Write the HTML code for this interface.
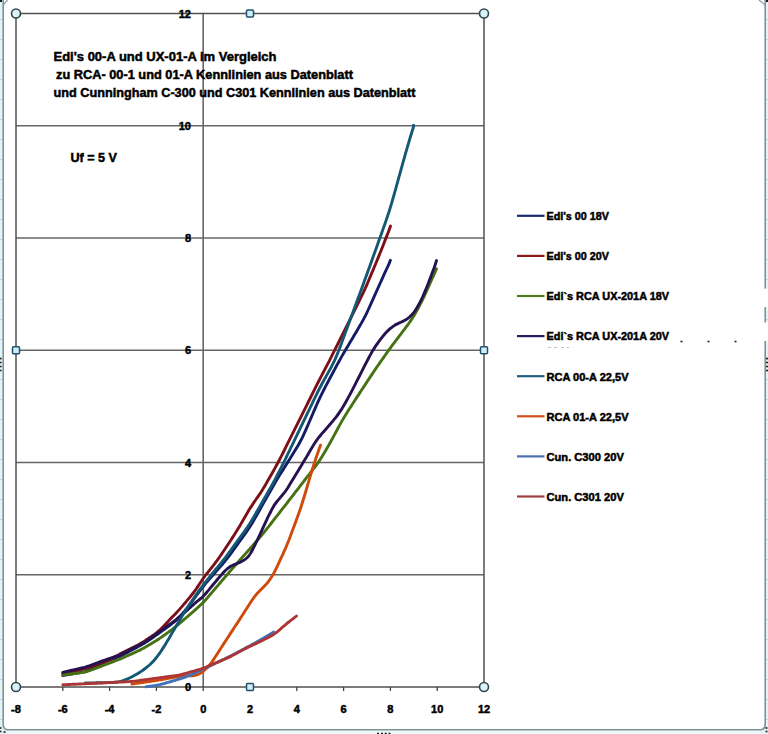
<!DOCTYPE html><html><head><meta charset="utf-8"><style>html,body{margin:0;padding:0;background:#fff;}svg{display:block;}text{font-family:"Liberation Sans",sans-serif;font-weight:bold;fill:#000;stroke:#000;stroke-width:0.5px;}</style></head><body>
<svg width="768" height="734" viewBox="0 0 768 734">
<rect x="0" y="0" width="768" height="734" fill="#e2f4f8"/>
<path d="M3.2,-2 L765.2,-2 L765.2,724.5 Q765.2,729.8 760,729.8 L8.5,729.8 Q3.2,729.8 3.2,724.5 Z" fill="#ffffff" stroke="none"/>
<line x1="0" y1="19.5" x2="2.4" y2="19.5" stroke="#b9cfd3" stroke-width="0.8"/>
<line x1="766" y1="19.5" x2="768" y2="19.5" stroke="#b9cfd3" stroke-width="0.8"/>
<line x1="0" y1="39.5" x2="2.4" y2="39.5" stroke="#b9cfd3" stroke-width="0.8"/>
<line x1="766" y1="39.5" x2="768" y2="39.5" stroke="#b9cfd3" stroke-width="0.8"/>
<line x1="0" y1="59.5" x2="2.4" y2="59.5" stroke="#b9cfd3" stroke-width="0.8"/>
<line x1="766" y1="59.5" x2="768" y2="59.5" stroke="#b9cfd3" stroke-width="0.8"/>
<line x1="0" y1="79.5" x2="2.4" y2="79.5" stroke="#b9cfd3" stroke-width="0.8"/>
<line x1="766" y1="79.5" x2="768" y2="79.5" stroke="#b9cfd3" stroke-width="0.8"/>
<line x1="0" y1="99.5" x2="2.4" y2="99.5" stroke="#b9cfd3" stroke-width="0.8"/>
<line x1="766" y1="99.5" x2="768" y2="99.5" stroke="#b9cfd3" stroke-width="0.8"/>
<line x1="0" y1="119.5" x2="2.4" y2="119.5" stroke="#b9cfd3" stroke-width="0.8"/>
<line x1="766" y1="119.5" x2="768" y2="119.5" stroke="#b9cfd3" stroke-width="0.8"/>
<line x1="0" y1="139.5" x2="2.4" y2="139.5" stroke="#b9cfd3" stroke-width="0.8"/>
<line x1="766" y1="139.5" x2="768" y2="139.5" stroke="#b9cfd3" stroke-width="0.8"/>
<line x1="0" y1="159.5" x2="2.4" y2="159.5" stroke="#b9cfd3" stroke-width="0.8"/>
<line x1="766" y1="159.5" x2="768" y2="159.5" stroke="#b9cfd3" stroke-width="0.8"/>
<line x1="0" y1="179.5" x2="2.4" y2="179.5" stroke="#b9cfd3" stroke-width="0.8"/>
<line x1="766" y1="179.5" x2="768" y2="179.5" stroke="#b9cfd3" stroke-width="0.8"/>
<line x1="0" y1="199.5" x2="2.4" y2="199.5" stroke="#b9cfd3" stroke-width="0.8"/>
<line x1="766" y1="199.5" x2="768" y2="199.5" stroke="#b9cfd3" stroke-width="0.8"/>
<line x1="0" y1="219.5" x2="2.4" y2="219.5" stroke="#b9cfd3" stroke-width="0.8"/>
<line x1="766" y1="219.5" x2="768" y2="219.5" stroke="#b9cfd3" stroke-width="0.8"/>
<line x1="0" y1="239.5" x2="2.4" y2="239.5" stroke="#b9cfd3" stroke-width="0.8"/>
<line x1="766" y1="239.5" x2="768" y2="239.5" stroke="#b9cfd3" stroke-width="0.8"/>
<line x1="0" y1="259.5" x2="2.4" y2="259.5" stroke="#b9cfd3" stroke-width="0.8"/>
<line x1="766" y1="259.5" x2="768" y2="259.5" stroke="#b9cfd3" stroke-width="0.8"/>
<line x1="0" y1="279.5" x2="2.4" y2="279.5" stroke="#b9cfd3" stroke-width="0.8"/>
<line x1="766" y1="279.5" x2="768" y2="279.5" stroke="#b9cfd3" stroke-width="0.8"/>
<line x1="0" y1="299.5" x2="2.4" y2="299.5" stroke="#b9cfd3" stroke-width="0.8"/>
<line x1="766" y1="299.5" x2="768" y2="299.5" stroke="#b9cfd3" stroke-width="0.8"/>
<line x1="0" y1="319.5" x2="2.4" y2="319.5" stroke="#b9cfd3" stroke-width="0.8"/>
<line x1="766" y1="319.5" x2="768" y2="319.5" stroke="#b9cfd3" stroke-width="0.8"/>
<line x1="0" y1="339.5" x2="2.4" y2="339.5" stroke="#b9cfd3" stroke-width="0.8"/>
<line x1="766" y1="339.5" x2="768" y2="339.5" stroke="#b9cfd3" stroke-width="0.8"/>
<line x1="0" y1="359.5" x2="2.4" y2="359.5" stroke="#b9cfd3" stroke-width="0.8"/>
<line x1="766" y1="359.5" x2="768" y2="359.5" stroke="#b9cfd3" stroke-width="0.8"/>
<line x1="0" y1="379.5" x2="2.4" y2="379.5" stroke="#b9cfd3" stroke-width="0.8"/>
<line x1="766" y1="379.5" x2="768" y2="379.5" stroke="#b9cfd3" stroke-width="0.8"/>
<line x1="0" y1="399.5" x2="2.4" y2="399.5" stroke="#b9cfd3" stroke-width="0.8"/>
<line x1="766" y1="399.5" x2="768" y2="399.5" stroke="#b9cfd3" stroke-width="0.8"/>
<line x1="0" y1="419.5" x2="2.4" y2="419.5" stroke="#b9cfd3" stroke-width="0.8"/>
<line x1="766" y1="419.5" x2="768" y2="419.5" stroke="#b9cfd3" stroke-width="0.8"/>
<line x1="0" y1="439.5" x2="2.4" y2="439.5" stroke="#b9cfd3" stroke-width="0.8"/>
<line x1="766" y1="439.5" x2="768" y2="439.5" stroke="#b9cfd3" stroke-width="0.8"/>
<line x1="0" y1="459.5" x2="2.4" y2="459.5" stroke="#b9cfd3" stroke-width="0.8"/>
<line x1="766" y1="459.5" x2="768" y2="459.5" stroke="#b9cfd3" stroke-width="0.8"/>
<line x1="0" y1="479.5" x2="2.4" y2="479.5" stroke="#b9cfd3" stroke-width="0.8"/>
<line x1="766" y1="479.5" x2="768" y2="479.5" stroke="#b9cfd3" stroke-width="0.8"/>
<line x1="0" y1="499.5" x2="2.4" y2="499.5" stroke="#b9cfd3" stroke-width="0.8"/>
<line x1="766" y1="499.5" x2="768" y2="499.5" stroke="#b9cfd3" stroke-width="0.8"/>
<line x1="0" y1="519.5" x2="2.4" y2="519.5" stroke="#b9cfd3" stroke-width="0.8"/>
<line x1="766" y1="519.5" x2="768" y2="519.5" stroke="#b9cfd3" stroke-width="0.8"/>
<line x1="0" y1="539.5" x2="2.4" y2="539.5" stroke="#b9cfd3" stroke-width="0.8"/>
<line x1="766" y1="539.5" x2="768" y2="539.5" stroke="#b9cfd3" stroke-width="0.8"/>
<line x1="0" y1="559.5" x2="2.4" y2="559.5" stroke="#b9cfd3" stroke-width="0.8"/>
<line x1="766" y1="559.5" x2="768" y2="559.5" stroke="#b9cfd3" stroke-width="0.8"/>
<line x1="0" y1="579.5" x2="2.4" y2="579.5" stroke="#b9cfd3" stroke-width="0.8"/>
<line x1="766" y1="579.5" x2="768" y2="579.5" stroke="#b9cfd3" stroke-width="0.8"/>
<line x1="0" y1="599.5" x2="2.4" y2="599.5" stroke="#b9cfd3" stroke-width="0.8"/>
<line x1="766" y1="599.5" x2="768" y2="599.5" stroke="#b9cfd3" stroke-width="0.8"/>
<line x1="0" y1="619.5" x2="2.4" y2="619.5" stroke="#b9cfd3" stroke-width="0.8"/>
<line x1="766" y1="619.5" x2="768" y2="619.5" stroke="#b9cfd3" stroke-width="0.8"/>
<line x1="0" y1="639.5" x2="2.4" y2="639.5" stroke="#b9cfd3" stroke-width="0.8"/>
<line x1="766" y1="639.5" x2="768" y2="639.5" stroke="#b9cfd3" stroke-width="0.8"/>
<line x1="0" y1="659.5" x2="2.4" y2="659.5" stroke="#b9cfd3" stroke-width="0.8"/>
<line x1="766" y1="659.5" x2="768" y2="659.5" stroke="#b9cfd3" stroke-width="0.8"/>
<line x1="0" y1="679.5" x2="2.4" y2="679.5" stroke="#b9cfd3" stroke-width="0.8"/>
<line x1="766" y1="679.5" x2="768" y2="679.5" stroke="#b9cfd3" stroke-width="0.8"/>
<line x1="0" y1="699.5" x2="2.4" y2="699.5" stroke="#b9cfd3" stroke-width="0.8"/>
<line x1="766" y1="699.5" x2="768" y2="699.5" stroke="#b9cfd3" stroke-width="0.8"/>
<line x1="0" y1="719.5" x2="2.4" y2="719.5" stroke="#b9cfd3" stroke-width="0.8"/>
<line x1="766" y1="719.5" x2="768" y2="719.5" stroke="#b9cfd3" stroke-width="0.8"/>
<line x1="40.6" y1="731" x2="40.6" y2="734" stroke="#b9cfd3" stroke-width="0.8"/>
<line x1="105.0" y1="731" x2="105.0" y2="734" stroke="#b9cfd3" stroke-width="0.8"/>
<line x1="169.5" y1="731" x2="169.5" y2="734" stroke="#b9cfd3" stroke-width="0.8"/>
<line x1="233.9" y1="731" x2="233.9" y2="734" stroke="#b9cfd3" stroke-width="0.8"/>
<line x1="298.3" y1="731" x2="298.3" y2="734" stroke="#b9cfd3" stroke-width="0.8"/>
<line x1="362.7" y1="731" x2="362.7" y2="734" stroke="#b9cfd3" stroke-width="0.8"/>
<line x1="427.1" y1="731" x2="427.1" y2="734" stroke="#b9cfd3" stroke-width="0.8"/>
<line x1="491.5" y1="731" x2="491.5" y2="734" stroke="#b9cfd3" stroke-width="0.8"/>
<line x1="555.9" y1="731" x2="555.9" y2="734" stroke="#b9cfd3" stroke-width="0.8"/>
<line x1="620.3" y1="731" x2="620.3" y2="734" stroke="#b9cfd3" stroke-width="0.8"/>
<line x1="684.7" y1="731" x2="684.7" y2="734" stroke="#b9cfd3" stroke-width="0.8"/>
<line x1="749.1" y1="731" x2="749.1" y2="734" stroke="#b9cfd3" stroke-width="0.8"/>
<rect x="8" y="730.5" width="752" height="3.5" fill="#eef8fa"/>
<path d="M3.2,-2 L3.2,724.5 Q3.2,729.8 8.5,729.8 L760,729.8 Q765.2,729.8 765.2,724.5 L765.2,-2" fill="none" stroke="#7f9393" stroke-width="1.6"/>
<rect x="763.5" y="288.6" width="4.5" height="18.5" fill="#ffffff"/>
<rect x="763.5" y="322.4" width="4.5" height="18.6" fill="#ffffff"/>
<rect x="660" y="289" width="104" height="52" fill="#ffffff"/>
<path d="M3.2,5 L7.5,0 M765.2,5 L759,0" stroke="#8a9fa2" stroke-width="1.2" fill="none"/>
<rect x="0" y="0" width="2" height="2" fill="#1a1a1a"/><rect x="766" y="0" width="2" height="2" fill="#1a1a1a"/>
<rect x="-0.5" y="727.2" width="2" height="1.6" fill="#222"/>
<rect x="-0.5" y="730.7" width="2" height="1.6" fill="#222"/>
<rect x="3.5" y="731.2" width="2" height="1.6" fill="#222"/>
<rect x="377.0" y="732.7" width="2" height="1.6" fill="#222"/>
<rect x="381.0" y="732.7" width="2" height="1.6" fill="#222"/>
<rect x="384.7" y="732.7" width="2" height="1.6" fill="#222"/>
<rect x="388.5" y="732.7" width="2" height="1.6" fill="#222"/>
<rect x="765.5" y="727.2" width="2" height="1.6" fill="#222"/>
<rect x="765.5" y="730.7" width="2" height="1.6" fill="#222"/>
<rect x="766.0" y="357.7" width="2" height="1.6" fill="#222"/>
<rect x="766.0" y="361.7" width="2" height="1.6" fill="#222"/>
<rect x="766.0" y="365.7" width="2" height="1.6" fill="#222"/>
<rect x="766.0" y="369.7" width="2" height="1.6" fill="#222"/>
<rect x="-0.4" y="357.7" width="2" height="1.6" fill="#222"/>
<rect x="-0.4" y="361.7" width="2" height="1.6" fill="#222"/>
<rect x="-0.4" y="365.7" width="2" height="1.6" fill="#222"/>
<rect x="-0.4" y="369.7" width="2" height="1.6" fill="#222"/>
<rect x="680.5" y="340.7" width="2" height="1.6" fill="#222"/>
<rect x="707.5" y="340.7" width="2" height="1.6" fill="#222"/>
<rect x="734.5" y="340.7" width="2" height="1.6" fill="#222"/>
<line x1="16.0" y1="574.8" x2="484.0" y2="574.8" stroke="#666" stroke-width="1.6"/>
<line x1="16.0" y1="462.5" x2="484.0" y2="462.5" stroke="#666" stroke-width="1.6"/>
<line x1="16.0" y1="350.2" x2="484.0" y2="350.2" stroke="#666" stroke-width="1.6"/>
<line x1="16.0" y1="238.0" x2="484.0" y2="238.0" stroke="#666" stroke-width="1.6"/>
<line x1="16.0" y1="125.8" x2="484.0" y2="125.8" stroke="#666" stroke-width="1.6"/>
<line x1="203.2" y1="13.5" x2="203.2" y2="687.0" stroke="#666" stroke-width="1.6"/>
<rect x="16.0" y="13.5" width="468.0" height="673.5" fill="none" stroke="#505050" stroke-width="1.5"/>
<line x1="16.0" y1="687.0" x2="16.0" y2="691.0" stroke="#444" stroke-width="1.3"/>
<line x1="62.8" y1="687.0" x2="62.8" y2="691.0" stroke="#444" stroke-width="1.3"/>
<line x1="109.6" y1="687.0" x2="109.6" y2="691.0" stroke="#444" stroke-width="1.3"/>
<line x1="156.4" y1="687.0" x2="156.4" y2="691.0" stroke="#444" stroke-width="1.3"/>
<line x1="203.2" y1="687.0" x2="203.2" y2="691.0" stroke="#444" stroke-width="1.3"/>
<line x1="250.0" y1="687.0" x2="250.0" y2="691.0" stroke="#444" stroke-width="1.3"/>
<line x1="296.8" y1="687.0" x2="296.8" y2="691.0" stroke="#444" stroke-width="1.3"/>
<line x1="343.6" y1="687.0" x2="343.6" y2="691.0" stroke="#444" stroke-width="1.3"/>
<line x1="390.4" y1="687.0" x2="390.4" y2="691.0" stroke="#444" stroke-width="1.3"/>
<line x1="437.2" y1="687.0" x2="437.2" y2="691.0" stroke="#444" stroke-width="1.3"/>
<line x1="484.0" y1="687.0" x2="484.0" y2="691.0" stroke="#444" stroke-width="1.3"/>
<text x="191" y="691.0" font-size="11" text-anchor="end">0</text>
<text x="191" y="578.8" font-size="11" text-anchor="end">2</text>
<text x="191" y="466.5" font-size="11" text-anchor="end">4</text>
<text x="191" y="354.2" font-size="11" text-anchor="end">6</text>
<text x="191" y="242.0" font-size="11" text-anchor="end">8</text>
<text x="191" y="129.8" font-size="11" text-anchor="end">10</text>
<text x="191" y="17.5" font-size="11" text-anchor="end">12</text>
<text x="16.0" y="712.5" font-size="11" text-anchor="middle">-8</text>
<text x="62.8" y="712.5" font-size="11" text-anchor="middle">-6</text>
<text x="109.6" y="712.5" font-size="11" text-anchor="middle">-4</text>
<text x="156.4" y="712.5" font-size="11" text-anchor="middle">-2</text>
<text x="203.2" y="712.5" font-size="11" text-anchor="middle">0</text>
<text x="250.0" y="712.5" font-size="11" text-anchor="middle">2</text>
<text x="296.8" y="712.5" font-size="11" text-anchor="middle">4</text>
<text x="343.6" y="712.5" font-size="11" text-anchor="middle">6</text>
<text x="390.4" y="712.5" font-size="11" text-anchor="middle">8</text>
<text x="437.2" y="712.5" font-size="11" text-anchor="middle">10</text>
<text x="484.0" y="712.5" font-size="11" text-anchor="middle">12</text>
<text x="53.5" y="61" font-size="13.2" textLength="223" lengthAdjust="spacingAndGlyphs">Edi's 00-A und UX-01-A  im Vergleich</text>
<text x="56" y="79" font-size="13.2" textLength="297" lengthAdjust="spacingAndGlyphs">zu RCA- 00-1 und 01-A Kennlinien aus Datenblatt</text>
<text x="53.5" y="97" font-size="13.2" textLength="362" lengthAdjust="spacingAndGlyphs">und Cunningham C-300 und C301 Kennlinien aus Datenblatt</text>
<text x="70.5" y="162" font-size="13.2" textLength="46.5" lengthAdjust="spacingAndGlyphs">Uf = 5 V</text>
<path d="M62.80,675.50 C63.47,675.39 64.13,675.27 64.80,675.16 C65.47,675.04 66.13,674.93 66.80,674.82 C67.47,674.70 68.13,674.59 68.80,674.47 C69.47,674.36 70.13,674.25 70.80,674.13 C71.47,674.02 72.13,673.90 72.80,673.79 C73.47,673.68 74.13,673.56 74.80,673.45 C75.47,673.33 76.13,673.22 76.80,673.11 C77.47,672.99 78.13,672.88 78.80,672.76 C79.47,672.65 80.13,672.53 80.80,672.41 C81.47,672.28 82.14,672.16 82.80,672.02 C83.47,671.87 84.14,671.71 84.80,671.53 C85.47,671.33 86.14,671.12 86.80,670.87 C87.47,670.63 88.14,670.34 88.80,670.05 C89.47,669.75 90.14,669.43 90.80,669.10 C91.47,668.77 92.13,668.43 92.80,668.09 C93.47,667.75 94.13,667.41 94.80,667.06 C95.47,666.72 96.13,666.37 96.80,666.03 C97.47,665.69 98.13,665.34 98.80,665.00 C99.47,664.66 100.13,664.32 100.80,663.98 C101.47,663.65 102.13,663.32 102.80,663.00 C103.46,662.68 104.13,662.36 104.80,662.07 C105.46,661.77 106.13,661.49 106.80,661.22 C107.46,660.94 108.13,660.68 108.80,660.43 C109.47,660.17 110.13,659.93 110.80,659.68 C111.47,659.43 112.13,659.19 112.80,658.94 C113.47,658.69 114.13,658.45 114.80,658.20 C115.47,657.95 116.13,657.70 116.80,657.44 C117.47,657.17 118.14,656.91 118.80,656.63 C119.47,656.34 120.14,656.05 120.80,655.74 C121.47,655.42 122.14,655.10 122.80,654.76 C123.47,654.43 124.13,654.08 124.80,653.74 C125.47,653.39 126.13,653.03 126.80,652.68 C127.47,652.33 128.13,651.97 128.80,651.62 C129.47,651.26 130.13,650.91 130.80,650.55 C131.47,650.20 132.13,649.85 132.80,649.49 C133.47,649.14 134.13,648.78 134.80,648.43 C135.47,648.07 136.13,647.72 136.80,647.36 C137.47,647.01 138.13,646.65 138.80,646.30 C139.47,645.94 140.13,645.58 140.80,645.22 C141.47,644.85 142.14,644.48 142.80,644.10 C143.47,643.72 144.14,643.33 144.80,642.92 C145.47,642.51 146.14,642.09 146.80,641.66 C147.47,641.22 148.13,640.77 148.80,640.32 C149.47,639.86 150.13,639.40 150.80,638.94 C151.47,638.47 152.13,638.01 152.80,637.54 C153.47,637.07 154.13,636.61 154.80,636.14 C155.47,635.67 156.13,635.20 156.80,634.73 C157.47,634.26 158.13,633.79 158.80,633.32 C159.47,632.84 160.13,632.36 160.80,631.89 C161.47,631.41 162.13,630.92 162.80,630.44 C163.47,629.95 164.13,629.47 164.80,628.98 C165.47,628.49 166.13,628.00 166.80,627.51 C167.47,627.02 168.13,626.53 168.80,626.04 C169.47,625.55 170.14,625.05 170.80,624.55 C171.47,624.04 172.14,623.52 172.80,622.99 C173.47,622.44 174.14,621.88 174.80,621.30 C175.47,620.70 176.14,620.08 176.80,619.45 C177.47,618.80 178.14,618.13 178.80,617.46 C179.47,616.77 180.14,616.08 180.80,615.37 C181.47,614.65 182.14,613.93 182.80,613.19 C183.47,612.43 184.14,611.66 184.80,610.88 C185.47,610.07 186.14,609.25 186.80,608.41 C187.47,607.56 188.14,606.68 188.80,605.81 C189.47,604.92 190.13,604.03 190.80,603.13 C191.47,602.24 192.13,601.33 192.80,600.43 C193.47,599.53 194.13,598.63 194.80,597.72 C195.47,596.82 196.13,595.92 196.80,595.01 C197.47,594.11 198.13,593.21 198.80,592.32 C199.47,591.42 200.13,590.53 200.80,589.65 C201.46,588.78 202.13,587.91 202.80,587.06 C203.46,586.21 204.13,585.38 204.80,584.57 C205.46,583.76 206.13,582.96 206.80,582.17 C207.46,581.39 208.13,580.61 208.80,579.84 C209.47,579.07 210.13,578.30 210.80,577.54 C211.47,576.77 212.13,576.01 212.80,575.24 C213.47,574.47 214.13,573.71 214.80,572.94 C215.47,572.18 216.13,571.41 216.80,570.65 C217.47,569.88 218.13,569.12 218.80,568.35 C219.47,567.59 220.13,566.82 220.80,566.05 C221.47,565.28 222.14,564.51 222.80,563.73 C223.47,562.94 224.14,562.15 224.80,561.35 C225.47,560.53 226.14,559.71 226.80,558.86 C227.47,558.01 228.14,557.14 228.80,556.26 C229.47,555.37 230.14,554.46 230.80,553.56 C231.47,552.65 232.13,551.73 232.80,550.81 C233.47,549.89 234.13,548.97 234.80,548.05 C235.47,547.12 236.13,546.20 236.80,545.28 C237.47,544.35 238.13,543.43 238.80,542.51 C239.47,541.58 240.13,540.66 240.80,539.74 C241.47,538.81 242.13,537.89 242.80,536.97 C243.47,536.04 244.14,535.12 244.80,534.18 C245.47,533.24 246.14,532.31 246.80,531.35 C247.47,530.38 248.14,529.40 248.80,528.40 C249.47,527.37 250.14,526.33 250.80,525.27 C251.47,524.18 252.14,523.07 252.80,521.95 C253.47,520.81 254.14,519.65 254.80,518.49 C255.47,517.33 256.13,516.15 256.80,514.98 C257.47,513.81 258.13,512.63 258.80,511.45 C259.47,510.27 260.13,509.10 260.80,507.92 C261.47,506.74 262.13,505.56 262.80,504.38 C263.47,503.21 264.13,502.03 264.80,500.85 C265.47,499.67 266.13,498.49 266.80,497.32 C267.47,496.14 268.13,494.96 268.80,493.78 C269.47,492.61 270.13,491.43 270.80,490.25 C271.47,489.08 272.13,487.91 272.80,486.74 C273.47,485.58 274.13,484.42 274.80,483.27 C275.46,482.13 276.13,481.00 276.80,479.87 C277.46,478.76 278.13,477.66 278.80,476.57 C279.46,475.48 280.13,474.41 280.80,473.34 C281.47,472.27 282.13,471.20 282.80,470.14 C283.47,469.07 284.13,468.01 284.80,466.95 C285.47,465.88 286.13,464.82 286.80,463.75 C287.47,462.68 288.13,461.61 288.80,460.54 C289.47,459.47 290.13,458.39 290.80,457.32 C291.47,456.24 292.13,455.17 292.80,454.09 C293.47,453.01 294.13,451.93 294.80,450.84 C295.47,449.75 296.14,448.67 296.80,447.56 C297.47,446.44 298.14,445.32 298.80,444.16 C299.48,442.97 300.14,441.77 300.80,440.52 C301.48,439.22 302.14,437.88 302.80,436.52 C303.48,435.11 304.14,433.65 304.80,432.19 C305.47,430.70 306.14,429.17 306.80,427.65 C307.47,426.12 308.13,424.57 308.80,423.03 C309.47,421.48 310.13,419.93 310.80,418.38 C311.47,416.84 312.13,415.29 312.80,413.74 C313.47,412.19 314.13,410.65 314.80,409.11 C315.46,407.58 316.13,406.04 316.80,404.53 C317.46,403.04 318.13,401.55 318.80,400.09 C319.46,398.66 320.13,397.24 320.80,395.85 C321.46,394.49 322.13,393.16 322.80,391.84 C323.46,390.53 324.13,389.25 324.80,387.97 C325.46,386.69 326.13,385.43 326.80,384.17 C327.47,382.91 328.13,381.65 328.80,380.39 C329.47,379.13 330.13,377.87 330.80,376.61 C331.47,375.35 332.13,374.10 332.80,372.84 C333.47,371.58 334.13,370.33 334.80,369.07 C335.47,367.83 336.13,366.58 336.80,365.34 C337.46,364.11 338.13,362.89 338.80,361.68 C339.46,360.48 340.13,359.29 340.80,358.11 C341.46,356.94 342.13,355.79 342.80,354.64 C343.46,353.49 344.13,352.36 344.80,351.23 C345.47,350.10 346.13,348.97 346.80,347.84 C347.47,346.71 348.13,345.59 348.80,344.46 C349.47,343.34 350.13,342.21 350.80,341.08 C351.47,339.96 352.13,338.83 352.80,337.71 C353.47,336.58 354.13,335.45 354.80,334.33 C355.47,333.20 356.13,332.08 356.80,330.95 C357.47,329.82 358.13,328.69 358.80,327.56 C359.47,326.42 360.14,325.29 360.80,324.14 C361.47,322.97 362.14,321.80 362.80,320.60 C363.47,319.37 364.14,318.12 364.80,316.84 C365.48,315.52 366.14,314.17 366.80,312.80 C367.47,311.40 368.14,309.96 368.80,308.52 C369.47,307.07 370.13,305.59 370.80,304.11 C371.47,302.63 372.13,301.14 372.80,299.66 C373.47,298.17 374.13,296.68 374.80,295.19 C375.47,293.69 376.13,292.20 376.80,290.71 C377.47,289.22 378.13,287.73 378.80,286.24 C379.47,284.75 380.13,283.26 380.80,281.77 C381.47,280.28 382.13,278.79 382.80,277.30 C383.47,275.82 384.13,274.33 384.80,272.86 C385.46,271.40 386.13,269.95 386.80,268.51 C387.46,267.10 388.19,265.72 388.80,264.33 C389.39,262.98 389.87,261.64 390.40,260.30" fill="none" stroke="#141c68" stroke-width="2.9" stroke-linecap="round" stroke-linejoin="round"/>
<path d="M62.80,673.50 C63.47,673.36 64.13,673.22 64.80,673.07 C65.47,672.93 66.13,672.79 66.80,672.65 C67.47,672.50 68.13,672.36 68.80,672.22 C69.47,672.08 70.13,671.93 70.80,671.79 C71.47,671.65 72.13,671.51 72.80,671.36 C73.47,671.22 74.13,671.08 74.80,670.94 C75.47,670.79 76.13,670.65 76.80,670.51 C77.47,670.37 78.13,670.22 78.80,670.08 C79.47,669.94 80.13,669.79 80.80,669.65 C81.47,669.50 82.13,669.35 82.80,669.20 C83.47,669.04 84.13,668.88 84.80,668.70 C85.47,668.52 86.14,668.33 86.80,668.13 C87.47,667.93 88.13,667.71 88.80,667.48 C89.47,667.26 90.13,667.02 90.80,666.78 C91.47,666.54 92.13,666.29 92.80,666.04 C93.47,665.80 94.13,665.55 94.80,665.30 C95.47,665.05 96.13,664.81 96.80,664.56 C97.47,664.31 98.13,664.06 98.80,663.82 C99.47,663.57 100.13,663.32 100.80,663.07 C101.47,662.82 102.13,662.58 102.80,662.33 C103.47,662.08 104.13,661.83 104.80,661.57 C105.47,661.32 106.14,661.06 106.80,660.79 C107.47,660.52 108.14,660.24 108.80,659.94 C109.47,659.64 110.14,659.33 110.80,659.00 C111.47,658.67 112.14,658.33 112.80,657.98 C113.47,657.62 114.13,657.26 114.80,656.89 C115.47,656.53 116.13,656.16 116.80,655.79 C117.47,655.43 118.13,655.07 118.80,654.71 C119.47,654.35 120.13,653.99 120.80,653.64 C121.47,653.29 122.13,652.95 122.80,652.60 C123.47,652.26 124.13,651.92 124.80,651.58 C125.47,651.24 126.13,650.91 126.80,650.57 C127.47,650.23 128.13,649.90 128.80,649.56 C129.47,649.22 130.13,648.89 130.80,648.55 C131.47,648.21 132.13,647.88 132.80,647.54 C133.47,647.20 134.13,646.87 134.80,646.53 C135.47,646.19 136.13,645.86 136.80,645.51 C137.47,645.17 138.14,644.83 138.80,644.47 C139.47,644.11 140.14,643.75 140.80,643.37 C141.47,642.99 142.14,642.59 142.80,642.18 C143.47,641.77 144.14,641.34 144.80,640.91 C145.47,640.47 146.13,640.02 146.80,639.58 C147.47,639.13 148.13,638.67 148.80,638.22 C149.47,637.76 150.13,637.31 150.80,636.85 C151.47,636.39 152.13,635.94 152.80,635.47 C153.47,635.01 154.14,634.54 154.80,634.05 C155.47,633.56 156.14,633.06 156.80,632.53 C157.47,631.99 158.14,631.43 158.80,630.84 C159.47,630.24 160.14,629.61 160.80,628.97 C161.47,628.31 162.14,627.64 162.80,626.96 C163.47,626.28 164.13,625.58 164.80,624.89 C165.47,624.20 166.13,623.50 166.80,622.81 C167.47,622.11 168.13,621.41 168.80,620.71 C169.47,620.02 170.13,619.32 170.80,618.62 C171.47,617.92 172.13,617.23 172.80,616.53 C173.47,615.83 174.13,615.13 174.80,614.43 C175.47,613.73 176.14,613.03 176.80,612.31 C177.47,611.60 178.14,610.88 178.80,610.15 C179.47,609.41 180.14,608.67 180.80,607.91 C181.47,607.15 182.14,606.37 182.80,605.60 C183.47,604.81 184.13,604.02 184.80,603.23 C185.47,602.44 186.13,601.64 186.80,600.84 C187.47,600.04 188.13,599.24 188.80,598.43 C189.47,597.63 190.14,596.82 190.80,596.00 C191.47,595.17 192.14,594.34 192.80,593.49 C193.47,592.62 194.14,591.74 194.80,590.83 C195.47,589.91 196.14,588.96 196.80,587.99 C197.47,587.01 198.13,586.00 198.80,585.00 C199.47,584.00 200.13,582.98 200.80,581.98 C201.46,580.99 202.13,579.99 202.80,579.03 C203.46,578.08 204.13,577.15 204.80,576.24 C205.46,575.34 206.13,574.47 206.80,573.60 C207.46,572.74 208.13,571.90 208.80,571.06 C209.47,570.22 210.13,569.40 210.80,568.56 C211.47,567.73 212.13,566.90 212.80,566.06 C213.47,565.22 214.14,564.38 214.80,563.53 C215.47,562.66 216.14,561.79 216.80,560.90 C217.47,560.00 218.14,559.07 218.80,558.14 C219.47,557.19 220.14,556.22 220.80,555.25 C221.47,554.26 222.13,553.27 222.80,552.27 C223.47,551.27 224.13,550.26 224.80,549.26 C225.47,548.25 226.13,547.24 226.80,546.23 C227.47,545.22 228.13,544.22 228.80,543.21 C229.47,542.20 230.13,541.19 230.80,540.18 C231.47,539.17 232.14,538.15 232.80,537.13 C233.47,536.11 234.14,535.08 234.80,534.04 C235.47,532.99 236.14,531.94 236.80,530.86 C237.47,529.77 238.14,528.67 238.80,527.56 C239.47,526.43 240.14,525.28 240.80,524.14 C241.47,522.99 242.13,521.82 242.80,520.66 C243.47,519.50 244.13,518.33 244.80,517.17 C245.47,516.01 246.13,514.85 246.80,513.70 C247.46,512.57 248.13,511.44 248.80,510.33 C249.46,509.24 250.13,508.17 250.80,507.12 C251.46,506.08 252.13,505.07 252.80,504.07 C253.46,503.08 254.13,502.12 254.80,501.15 C255.46,500.19 256.13,499.24 256.80,498.28 C257.47,497.32 258.14,496.37 258.80,495.40 C259.47,494.41 260.14,493.43 260.80,492.42 C261.47,491.39 262.14,490.35 262.80,489.28 C263.47,488.20 264.14,487.08 264.80,485.97 C265.47,484.83 266.14,483.68 266.80,482.52 C267.47,481.36 268.13,480.18 268.80,479.01 C269.47,477.84 270.13,476.66 270.80,475.48 C271.47,474.30 272.13,473.12 272.80,471.94 C273.47,470.76 274.14,469.57 274.80,468.38 C275.47,467.18 276.14,465.98 276.80,464.76 C277.47,463.53 278.14,462.29 278.80,461.03 C279.47,459.76 280.14,458.47 280.80,457.18 C281.47,455.88 282.14,454.55 282.80,453.23 C283.47,451.91 284.13,450.57 284.80,449.24 C285.47,447.90 286.13,446.56 286.80,445.22 C287.47,443.88 288.13,442.54 288.80,441.20 C289.47,439.86 290.13,438.52 290.80,437.18 C291.47,435.84 292.13,434.50 292.80,433.16 C293.47,431.82 294.13,430.48 294.80,429.14 C295.47,427.80 296.13,426.46 296.80,425.12 C297.47,423.78 298.13,422.44 298.80,421.10 C299.47,419.77 300.13,418.43 300.80,417.09 C301.47,415.75 302.13,414.41 302.80,413.07 C303.47,411.73 304.13,410.39 304.80,409.05 C305.47,407.71 306.13,406.37 306.80,405.03 C307.47,403.69 308.13,402.35 308.80,401.01 C309.47,399.67 310.13,398.33 310.80,396.99 C311.47,395.65 312.13,394.31 312.80,392.97 C313.47,391.63 314.13,390.29 314.80,388.96 C315.47,387.62 316.13,386.29 316.80,384.96 C317.47,383.63 318.13,382.31 318.80,381.00 C319.46,379.69 320.13,378.39 320.80,377.09 C321.46,375.80 322.13,374.53 322.80,373.25 C323.47,371.97 324.13,370.71 324.80,369.44 C325.47,368.17 326.13,366.91 326.80,365.63 C327.47,364.36 328.14,363.08 328.80,361.80 C329.47,360.50 330.14,359.20 330.80,357.90 C331.47,356.59 332.13,355.27 332.80,353.94 C333.47,352.62 334.13,351.28 334.80,349.95 C335.47,348.62 336.13,347.28 336.80,345.94 C337.47,344.60 338.13,343.26 338.80,341.92 C339.47,340.58 340.13,339.25 340.80,337.91 C341.47,336.57 342.13,335.23 342.80,333.89 C343.47,332.55 344.13,331.21 344.80,329.87 C345.47,328.53 346.13,327.19 346.80,325.86 C347.47,324.52 348.13,323.18 348.80,321.84 C349.47,320.50 350.13,319.16 350.80,317.82 C351.47,316.48 352.13,315.14 352.80,313.80 C353.47,312.46 354.13,311.13 354.80,309.79 C355.47,308.45 356.13,307.11 356.80,305.77 C357.47,304.43 358.13,303.09 358.80,301.75 C359.47,300.40 360.14,299.05 360.80,297.69 C361.47,296.33 362.14,294.96 362.80,293.56 C363.47,292.15 364.14,290.72 364.80,289.28 C365.47,287.80 366.14,286.30 366.80,284.79 C367.47,283.26 368.14,281.70 368.80,280.14 C369.47,278.56 370.13,276.98 370.80,275.39 C371.47,273.80 372.13,272.20 372.80,270.61 C373.47,269.01 374.13,267.41 374.80,265.81 C375.47,264.21 376.13,262.61 376.80,261.00 C377.47,259.39 378.14,257.78 378.80,256.15 C379.47,254.52 380.14,252.87 380.80,251.22 C381.47,249.54 382.14,247.86 382.80,246.16 C383.47,244.46 384.13,242.74 384.80,241.02 C385.47,239.31 386.13,237.59 386.80,235.89 C387.46,234.21 388.18,232.55 388.80,230.88 C389.41,229.25 389.93,227.63 390.50,226.00" fill="none" stroke="#7d0f18" stroke-width="2.9" stroke-linecap="round" stroke-linejoin="round"/>
<path d="M62.80,675.00 C63.47,674.91 64.13,674.83 64.80,674.74 C65.47,674.66 66.13,674.57 66.80,674.49 C67.47,674.40 68.13,674.32 68.80,674.23 C69.47,674.15 70.13,674.06 70.80,673.97 C71.47,673.89 72.13,673.80 72.80,673.72 C73.47,673.63 74.13,673.55 74.80,673.46 C75.47,673.38 76.13,673.29 76.80,673.21 C77.47,673.12 78.13,673.03 78.80,672.95 C79.47,672.86 80.13,672.78 80.80,672.68 C81.47,672.59 82.13,672.50 82.80,672.39 C83.47,672.28 84.14,672.16 84.80,672.02 C85.47,671.88 86.14,671.72 86.80,671.54 C87.47,671.35 88.14,671.14 88.80,670.92 C89.47,670.70 90.13,670.46 90.80,670.22 C91.47,669.98 92.13,669.72 92.80,669.47 C93.47,669.22 94.13,668.96 94.80,668.71 C95.47,668.45 96.13,668.20 96.80,667.94 C97.47,667.69 98.13,667.43 98.80,667.17 C99.47,666.92 100.13,666.66 100.80,666.41 C101.47,666.15 102.13,665.90 102.80,665.64 C103.47,665.39 104.13,665.13 104.80,664.88 C105.47,664.63 106.13,664.37 106.80,664.12 C107.47,663.86 108.13,663.61 108.80,663.36 C109.47,663.10 110.13,662.85 110.80,662.60 C111.47,662.34 112.13,662.09 112.80,661.84 C113.47,661.58 114.13,661.33 114.80,661.07 C115.47,660.82 116.13,660.56 116.80,660.30 C117.47,660.04 118.13,659.78 118.80,659.51 C119.47,659.24 120.13,658.96 120.80,658.68 C121.47,658.40 122.13,658.11 122.80,657.82 C123.47,657.53 124.13,657.23 124.80,656.94 C125.47,656.64 126.13,656.34 126.80,656.04 C127.47,655.74 128.13,655.44 128.80,655.14 C129.47,654.84 130.13,654.54 130.80,654.24 C131.47,653.95 132.13,653.65 132.80,653.35 C133.47,653.05 134.13,652.75 134.80,652.45 C135.47,652.14 136.13,651.84 136.80,651.54 C137.47,651.23 138.13,650.93 138.80,650.61 C139.47,650.29 140.14,649.97 140.80,649.64 C141.47,649.30 142.14,648.95 142.80,648.59 C143.47,648.23 144.14,647.85 144.80,647.47 C145.47,647.09 146.13,646.70 146.80,646.30 C147.47,645.91 148.13,645.51 148.80,645.12 C149.47,644.72 150.13,644.32 150.80,643.92 C151.47,643.52 152.13,643.12 152.80,642.72 C153.47,642.32 154.13,641.92 154.80,641.51 C155.47,641.10 156.14,640.69 156.80,640.27 C157.47,639.85 158.14,639.42 158.80,638.98 C159.47,638.54 160.13,638.08 160.80,637.63 C161.47,637.17 162.13,636.71 162.80,636.24 C163.47,635.77 164.13,635.30 164.80,634.83 C165.47,634.35 166.13,633.87 166.80,633.39 C167.47,632.90 168.14,632.41 168.80,631.92 C169.47,631.42 170.13,630.91 170.80,630.39 C171.47,629.88 172.13,629.36 172.80,628.83 C173.47,628.31 174.13,627.78 174.80,627.24 C175.47,626.71 176.13,626.18 176.80,625.64 C177.47,625.10 178.13,624.56 178.80,624.01 C179.47,623.46 180.13,622.90 180.80,622.34 C181.47,621.78 182.13,621.21 182.80,620.64 C183.47,620.07 184.13,619.49 184.80,618.91 C185.47,618.34 186.13,617.76 186.80,617.18 C187.47,616.60 188.13,616.01 188.80,615.43 C189.47,614.85 190.13,614.27 190.80,613.69 C191.47,613.11 192.13,612.53 192.80,611.95 C193.47,611.37 194.13,610.79 194.80,610.21 C195.47,609.62 196.13,609.04 196.80,608.46 C197.47,607.87 198.14,607.28 198.80,606.68 C199.47,606.07 200.14,605.46 200.80,604.82 C201.47,604.18 202.14,603.51 202.80,602.83 C203.47,602.14 204.14,601.42 204.80,600.69 C205.47,599.95 206.14,599.19 206.80,598.43 C207.47,597.66 208.13,596.89 208.80,596.11 C209.47,595.33 210.13,594.55 210.80,593.77 C211.47,592.99 212.13,592.21 212.80,591.43 C213.47,590.65 214.13,589.87 214.80,589.09 C215.47,588.30 216.13,587.52 216.80,586.74 C217.47,585.96 218.13,585.18 218.80,584.40 C219.47,583.62 220.13,582.83 220.80,582.05 C221.47,581.27 222.13,580.49 222.80,579.71 C223.47,578.93 224.13,578.15 224.80,577.37 C225.47,576.59 226.13,575.81 226.80,575.03 C227.47,574.25 228.13,573.47 228.80,572.69 C229.47,571.92 230.13,571.15 230.80,570.38 C231.47,569.61 232.13,568.85 232.80,568.09 C233.47,567.33 234.13,566.57 234.80,565.81 C235.47,565.05 236.13,564.30 236.80,563.55 C237.47,562.79 238.13,562.04 238.80,561.28 C239.47,560.53 240.13,559.78 240.80,559.02 C241.47,558.27 242.13,557.52 242.80,556.76 C243.47,556.01 244.13,555.26 244.80,554.50 C245.47,553.75 246.13,552.99 246.80,552.24 C247.47,551.49 248.13,550.73 248.80,549.98 C249.47,549.23 250.13,548.47 250.80,547.72 C251.47,546.97 252.13,546.21 252.80,545.46 C253.47,544.71 254.13,543.95 254.80,543.20 C255.47,542.44 256.13,541.69 256.80,540.93 C257.47,540.17 258.14,539.41 258.80,538.64 C259.47,537.86 260.14,537.09 260.80,536.30 C261.47,535.50 262.14,534.70 262.80,533.89 C263.47,533.07 264.14,532.23 264.80,531.40 C265.47,530.56 266.13,529.71 266.80,528.87 C267.47,528.02 268.13,527.17 268.80,526.32 C269.47,525.47 270.13,524.61 270.80,523.76 C271.47,522.91 272.13,522.05 272.80,521.20 C273.47,520.35 274.13,519.50 274.80,518.64 C275.47,517.79 276.13,516.94 276.80,516.08 C277.47,515.23 278.13,514.38 278.80,513.53 C279.47,512.67 280.13,511.82 280.80,510.97 C281.47,510.12 282.13,509.26 282.80,508.41 C283.47,507.56 284.13,506.70 284.80,505.85 C285.47,505.00 286.13,504.14 286.80,503.29 C287.47,502.43 288.13,501.58 288.80,500.72 C289.47,499.86 290.13,499.01 290.80,498.15 C291.47,497.28 292.13,496.42 292.80,495.56 C293.47,494.70 294.13,493.83 294.80,492.97 C295.47,492.10 296.13,491.24 296.80,490.37 C297.47,489.51 298.13,488.64 298.80,487.77 C299.47,486.91 300.13,486.04 300.80,485.18 C301.47,484.31 302.13,483.45 302.80,482.58 C303.47,481.72 304.13,480.85 304.80,479.99 C305.47,479.12 306.13,478.26 306.80,477.40 C307.47,476.54 308.13,475.68 308.80,474.83 C309.47,473.97 310.13,473.12 310.80,472.27 C311.47,471.42 312.13,470.57 312.80,469.72 C313.47,468.86 314.14,468.01 314.80,467.14 C315.47,466.26 316.14,465.38 316.80,464.47 C317.47,463.54 318.14,462.59 318.80,461.61 C319.48,460.61 320.14,459.59 320.80,458.55 C321.47,457.49 322.14,456.40 322.80,455.31 C323.47,454.21 324.14,453.10 324.80,451.98 C325.47,450.85 326.14,449.72 326.80,448.58 C327.47,447.43 328.14,446.27 328.80,445.10 C329.47,443.91 330.14,442.71 330.80,441.51 C331.47,440.29 332.14,439.07 332.80,437.84 C333.47,436.60 334.13,435.36 334.80,434.11 C335.47,432.87 336.13,431.62 336.80,430.38 C337.47,429.15 338.13,427.91 338.80,426.69 C339.46,425.48 340.13,424.27 340.80,423.08 C341.46,421.91 342.13,420.76 342.80,419.61 C343.46,418.49 344.13,417.38 344.80,416.28 C345.46,415.19 346.13,414.11 346.80,413.04 C347.46,411.96 348.13,410.90 348.80,409.84 C349.47,408.78 350.13,407.72 350.80,406.67 C351.47,405.62 352.13,404.58 352.80,403.53 C353.47,402.50 354.13,401.47 354.80,400.44 C355.47,399.41 356.13,398.39 356.80,397.38 C357.47,396.36 358.13,395.34 358.80,394.33 C359.47,393.31 360.13,392.30 360.80,391.29 C361.47,390.27 362.13,389.26 362.80,388.24 C363.47,387.23 364.13,386.22 364.80,385.20 C365.47,384.19 366.13,383.18 366.80,382.16 C367.47,381.15 368.13,380.14 368.80,379.12 C369.47,378.11 370.13,377.10 370.80,376.09 C371.47,375.09 372.13,374.08 372.80,373.08 C373.47,372.09 374.13,371.09 374.80,370.11 C375.46,369.13 376.13,368.15 376.80,367.18 C377.47,366.22 378.13,365.26 378.80,364.30 C379.47,363.34 380.13,362.39 380.80,361.43 C381.47,360.48 382.13,359.52 382.80,358.57 C383.47,357.62 384.13,356.67 384.80,355.72 C385.47,354.78 386.13,353.83 386.80,352.89 C387.47,351.95 388.13,351.02 388.80,350.10 C389.46,349.18 390.13,348.27 390.80,347.36 C391.46,346.46 392.13,345.57 392.80,344.68 C393.47,343.79 394.13,342.91 394.80,342.02 C395.47,341.14 396.13,340.26 396.80,339.38 C397.47,338.50 398.13,337.63 398.80,336.75 C399.47,335.87 400.13,334.99 400.80,334.11 C401.47,333.24 402.13,332.36 402.80,331.48 C403.47,330.60 404.13,329.72 404.80,328.84 C405.47,327.96 406.14,327.08 406.80,326.19 C407.47,325.30 408.14,324.41 408.80,323.49 C409.47,322.57 410.14,321.63 410.80,320.66 C411.48,319.67 412.14,318.65 412.80,317.60 C413.48,316.52 414.14,315.41 414.80,314.28 C415.47,313.12 416.14,311.93 416.80,310.74 C417.47,309.52 418.14,308.29 418.80,307.05 C419.47,305.79 420.14,304.51 420.80,303.21 C421.47,301.89 422.14,300.55 422.80,299.19 C423.47,297.79 424.14,296.37 424.80,294.95 C425.47,293.50 426.14,292.03 426.80,290.56 C427.47,289.08 428.13,287.58 428.80,286.10 C429.47,284.61 430.13,283.12 430.80,281.63 C431.46,280.16 432.13,278.69 432.80,277.23 C433.46,275.80 434.18,274.38 434.80,272.96 C435.41,271.57 435.93,270.19 436.50,268.80" fill="none" stroke="#467214" stroke-width="2.9" stroke-linecap="round" stroke-linejoin="round"/>
<path d="M62.80,672.30 C63.47,672.15 64.13,672.00 64.80,671.85 C65.47,671.70 66.13,671.55 66.80,671.39 C67.47,671.24 68.13,671.09 68.80,670.94 C69.47,670.79 70.13,670.64 70.80,670.49 C71.47,670.34 72.13,670.19 72.80,670.04 C73.47,669.88 74.13,669.73 74.80,669.58 C75.47,669.43 76.13,669.28 76.80,669.13 C77.47,668.98 78.13,668.83 78.80,668.68 C79.47,668.53 80.13,668.37 80.80,668.22 C81.47,668.07 82.13,667.92 82.80,667.76 C83.47,667.61 84.14,667.45 84.80,667.28 C85.47,667.10 86.14,666.91 86.80,666.70 C87.47,666.49 88.13,666.25 88.80,666.02 C89.47,665.78 90.13,665.53 90.80,665.29 C91.47,665.04 92.13,664.79 92.80,664.54 C93.47,664.29 94.13,664.05 94.80,663.80 C95.47,663.55 96.13,663.30 96.80,663.05 C97.47,662.80 98.13,662.56 98.80,662.31 C99.47,662.06 100.13,661.81 100.80,661.56 C101.47,661.32 102.13,661.07 102.80,660.82 C103.47,660.58 104.13,660.34 104.80,660.10 C105.47,659.87 106.13,659.64 106.80,659.41 C107.47,659.18 108.13,658.96 108.80,658.73 C109.47,658.51 110.13,658.29 110.80,658.07 C111.47,657.84 112.13,657.62 112.80,657.40 C113.47,657.18 114.13,656.96 114.80,656.73 C115.47,656.51 116.13,656.29 116.80,656.06 C117.47,655.83 118.14,655.60 118.80,655.34 C119.47,655.08 120.14,654.80 120.80,654.50 C121.47,654.20 122.14,653.86 122.80,653.53 C123.47,653.20 124.13,652.85 124.80,652.50 C125.47,652.16 126.13,651.81 126.80,651.46 C127.47,651.12 128.13,650.77 128.80,650.42 C129.47,650.08 130.13,649.73 130.80,649.38 C131.47,649.04 132.13,648.69 132.80,648.34 C133.47,648.00 134.13,647.65 134.80,647.30 C135.47,646.96 136.13,646.61 136.80,646.26 C137.47,645.92 138.13,645.57 138.80,645.22 C139.47,644.88 140.13,644.53 140.80,644.18 C141.47,643.83 142.14,643.48 142.80,643.12 C143.47,642.75 144.14,642.37 144.80,641.97 C145.47,641.57 146.14,641.13 146.80,640.69 C147.47,640.24 148.13,639.77 148.80,639.31 C149.47,638.85 150.13,638.37 150.80,637.90 C151.47,637.43 152.13,636.96 152.80,636.49 C153.47,636.02 154.13,635.55 154.80,635.07 C155.47,634.60 156.13,634.13 156.80,633.66 C157.47,633.19 158.13,632.72 158.80,632.24 C159.47,631.77 160.13,631.29 160.80,630.81 C161.47,630.33 162.13,629.85 162.80,629.36 C163.47,628.88 164.13,628.40 164.80,627.91 C165.47,627.43 166.13,626.94 166.80,626.46 C167.47,625.97 168.13,625.49 168.80,625.01 C169.47,624.52 170.13,624.04 170.80,623.55 C171.47,623.06 172.13,622.58 172.80,622.09 C173.47,621.59 174.14,621.09 174.80,620.58 C175.47,620.06 176.14,619.54 176.80,619.01 C177.47,618.47 178.13,617.93 178.80,617.38 C179.47,616.84 180.13,616.29 180.80,615.74 C181.47,615.19 182.14,614.65 182.80,614.09 C183.47,613.53 184.14,612.97 184.80,612.39 C185.47,611.81 186.14,611.22 186.80,610.62 C187.47,610.02 188.13,609.41 188.80,608.80 C189.47,608.19 190.13,607.58 190.80,606.97 C191.47,606.36 192.13,605.74 192.80,605.14 C193.46,604.54 194.13,603.95 194.80,603.37 C195.46,602.80 196.13,602.25 196.80,601.70 C197.46,601.15 198.13,600.63 198.80,600.09 C199.47,599.55 200.14,599.02 200.80,598.46 C201.47,597.88 202.15,597.30 202.80,596.66 C203.48,596.00 204.14,595.29 204.80,594.56 C205.48,593.82 206.14,593.02 206.80,592.23 C207.47,591.44 208.13,590.63 208.80,589.83 C209.47,589.02 210.13,588.22 210.80,587.41 C211.47,586.61 212.13,585.81 212.80,585.01 C213.47,584.21 214.13,583.41 214.80,582.62 C215.47,581.82 216.13,581.02 216.80,580.23 C217.47,579.44 218.13,578.65 218.80,577.86 C219.47,577.08 220.13,576.31 220.80,575.54 C221.46,574.77 222.13,574.01 222.80,573.27 C223.46,572.53 224.12,571.79 224.80,571.11 C225.46,570.45 226.12,569.82 226.80,569.23 C227.45,568.67 228.12,568.16 228.80,567.67 C229.46,567.20 230.12,566.75 230.80,566.35 C231.46,565.96 232.13,565.61 232.80,565.29 C233.46,564.98 234.13,564.72 234.80,564.46 C235.47,564.19 236.14,563.95 236.80,563.68 C237.47,563.40 238.14,563.12 238.80,562.81 C239.47,562.51 240.14,562.19 240.80,561.86 C241.47,561.53 242.14,561.20 242.80,560.83 C243.47,560.45 244.15,560.07 244.80,559.62 C245.48,559.14 246.16,558.63 246.80,558.03 C247.49,557.39 248.16,556.68 248.80,555.87 C249.50,554.98 250.16,553.94 250.80,552.87 C251.49,551.73 252.14,550.45 252.80,549.19 C253.48,547.91 254.14,546.57 254.80,545.25 C255.47,543.91 256.14,542.56 256.80,541.19 C257.47,539.80 258.14,538.39 258.80,536.97 C259.47,535.53 260.13,534.06 260.80,532.60 C261.47,531.13 262.13,529.65 262.80,528.18 C263.47,526.72 264.13,525.25 264.80,523.80 C265.46,522.38 266.13,520.97 266.80,519.57 C267.46,518.19 268.13,516.83 268.80,515.48 C269.46,514.13 270.13,512.79 270.80,511.48 C271.46,510.19 272.11,508.90 272.80,507.69 C273.45,506.55 274.11,505.45 274.80,504.43 C275.45,503.47 276.12,502.60 276.80,501.74 C277.46,500.90 278.13,500.11 278.80,499.31 C279.46,498.51 280.13,497.72 280.80,496.93 C281.47,496.13 282.14,495.35 282.80,494.54 C283.47,493.72 284.15,492.92 284.80,492.06 C285.48,491.16 286.15,490.22 286.80,489.25 C287.48,488.25 288.14,487.18 288.80,486.12 C289.47,485.04 290.13,483.94 290.80,482.84 C291.47,481.74 292.13,480.63 292.80,479.52 C293.47,478.42 294.13,477.31 294.80,476.20 C295.47,475.10 296.13,474.00 296.80,472.91 C297.47,471.82 298.13,470.73 298.80,469.65 C299.47,468.56 300.13,467.49 300.80,466.40 C301.47,465.31 302.14,464.22 302.80,463.12 C303.47,462.01 304.13,460.89 304.80,459.77 C305.47,458.65 306.13,457.51 306.80,456.38 C307.47,455.24 308.13,454.09 308.80,452.95 C309.47,451.82 310.13,450.67 310.80,449.54 C311.46,448.43 312.13,447.31 312.80,446.22 C313.46,445.14 314.12,444.08 314.80,443.05 C315.46,442.05 316.12,441.07 316.80,440.13 C317.46,439.21 318.12,438.32 318.80,437.45 C319.46,436.61 320.13,435.79 320.80,434.99 C321.46,434.20 322.13,433.43 322.80,432.66 C323.46,431.89 324.13,431.14 324.80,430.38 C325.47,429.62 326.13,428.86 326.80,428.10 C327.47,427.34 328.13,426.57 328.80,425.80 C329.47,425.03 330.13,424.25 330.80,423.47 C331.47,422.68 332.14,421.90 332.80,421.10 C333.47,420.29 334.14,419.49 334.80,418.66 C335.47,417.82 336.14,416.97 336.80,416.09 C337.47,415.20 338.14,414.28 338.80,413.34 C339.48,412.37 340.14,411.38 340.80,410.36 C341.48,409.32 342.14,408.25 342.80,407.16 C343.47,406.05 344.14,404.92 344.80,403.78 C345.47,402.63 346.14,401.46 346.80,400.28 C347.47,399.08 348.14,397.88 348.80,396.66 C349.47,395.43 350.14,394.19 350.80,392.93 C351.47,391.67 352.14,390.38 352.80,389.10 C353.47,387.80 354.13,386.49 354.80,385.18 C355.47,383.86 356.13,382.53 356.80,381.21 C357.47,379.89 358.13,378.56 358.80,377.23 C359.47,375.91 360.13,374.59 360.80,373.28 C361.47,371.96 362.13,370.65 362.80,369.34 C363.47,368.03 364.13,366.73 364.80,365.43 C365.47,364.14 366.13,362.84 366.80,361.56 C367.46,360.28 368.13,359.01 368.80,357.76 C369.46,356.52 370.13,355.29 370.80,354.09 C371.46,352.91 372.12,351.74 372.80,350.61 C373.46,349.51 374.12,348.43 374.80,347.37 C375.46,346.34 376.13,345.34 376.80,344.36 C377.46,343.39 378.13,342.45 378.80,341.53 C379.46,340.62 380.13,339.73 380.80,338.85 C381.46,338.00 382.13,337.15 382.80,336.33 C383.46,335.53 384.13,334.75 384.80,333.99 C385.46,333.26 386.13,332.54 386.80,331.85 C387.46,331.17 388.13,330.52 388.80,329.89 C389.46,329.28 390.12,328.69 390.80,328.12 C391.46,327.58 392.12,327.05 392.80,326.56 C393.46,326.09 394.12,325.64 394.80,325.22 C395.46,324.82 396.13,324.46 396.80,324.11 C397.46,323.77 398.13,323.47 398.80,323.16 C399.46,322.86 400.13,322.58 400.80,322.28 C401.47,321.99 402.14,321.69 402.80,321.37 C403.47,321.05 404.14,320.71 404.80,320.34 C405.47,319.96 406.14,319.55 406.80,319.11 C407.48,318.65 408.15,318.17 408.80,317.63 C409.48,317.08 410.15,316.48 410.80,315.83 C411.48,315.16 412.15,314.43 412.80,313.65 C413.49,312.83 414.15,311.95 414.80,311.04 C415.48,310.08 416.15,309.06 416.80,308.00 C417.48,306.90 418.15,305.74 418.80,304.56 C419.48,303.32 420.15,302.03 420.80,300.71 C421.48,299.34 422.14,297.93 422.80,296.49 C423.48,295.00 424.14,293.47 424.80,291.93 C425.48,290.34 426.14,288.71 426.80,287.07 C427.47,285.40 428.14,283.69 428.80,281.98 C429.47,280.24 430.14,278.47 430.80,276.71 C431.47,274.93 432.13,273.13 432.80,271.34 C433.47,269.55 434.18,267.76 434.80,265.96 C435.41,264.18 435.93,262.39 436.50,260.60" fill="none" stroke="#26124f" stroke-width="2.9" stroke-linecap="round" stroke-linejoin="round"/>
<path d="M85.50,683.00 C86.17,682.99 86.83,682.98 87.50,682.97 C88.17,682.96 88.83,682.95 89.50,682.93 C90.17,682.92 90.83,682.91 91.50,682.90 C92.17,682.89 92.83,682.88 93.50,682.87 C94.17,682.86 94.83,682.85 95.50,682.84 C96.17,682.83 96.83,682.81 97.50,682.80 C98.17,682.79 98.83,682.78 99.50,682.77 C100.17,682.76 100.83,682.75 101.50,682.74 C102.17,682.73 102.83,682.72 103.50,682.71 C104.17,682.69 104.83,682.68 105.50,682.67 C106.17,682.66 106.83,682.64 107.50,682.63 C108.17,682.61 108.83,682.59 109.50,682.57 C110.17,682.54 110.83,682.52 111.50,682.48 C112.17,682.45 112.83,682.42 113.50,682.38 C114.17,682.34 114.83,682.30 115.50,682.24 C116.17,682.18 116.83,682.12 117.50,682.04 C118.17,681.95 118.84,681.84 119.50,681.70 C120.17,681.56 120.84,681.39 121.50,681.19 C122.17,681.00 122.84,680.76 123.50,680.53 C124.17,680.29 124.84,680.02 125.50,679.76 C126.17,679.49 126.84,679.22 127.50,678.93 C128.17,678.65 128.84,678.36 129.50,678.05 C130.17,677.73 130.84,677.41 131.50,677.07 C132.17,676.72 132.84,676.36 133.50,675.99 C134.17,675.62 134.83,675.23 135.50,674.84 C136.17,674.45 136.83,674.05 137.50,673.65 C138.17,673.24 138.84,672.83 139.50,672.41 C140.17,671.99 140.84,671.55 141.50,671.11 C142.17,670.66 142.84,670.20 143.50,669.72 C144.17,669.24 144.84,668.75 145.50,668.25 C146.17,667.74 146.84,667.22 147.50,666.68 C148.17,666.13 148.84,665.57 149.50,664.98 C150.17,664.37 150.84,663.74 151.50,663.08 C152.18,662.41 152.84,661.71 153.50,660.99 C154.17,660.25 154.84,659.48 155.50,658.70 C156.18,657.89 156.84,657.06 157.50,656.19 C158.18,655.31 158.84,654.39 159.50,653.45 C160.18,652.49 160.84,651.49 161.50,650.49 C162.17,649.46 162.84,648.41 163.50,647.36 C164.17,646.30 164.84,645.22 165.50,644.13 C166.17,643.04 166.84,641.93 167.50,640.82 C168.17,639.70 168.83,638.57 169.50,637.45 C170.17,636.31 170.83,635.17 171.50,634.04 C172.17,632.90 172.83,631.76 173.50,630.62 C174.17,629.48 174.83,628.34 175.50,627.20 C176.17,626.07 176.83,624.93 177.50,623.80 C178.17,622.67 178.83,621.54 179.50,620.42 C180.17,619.31 180.83,618.19 181.50,617.09 C182.16,615.99 182.83,614.89 183.50,613.80 C184.16,612.73 184.83,611.65 185.50,610.59 C186.16,609.54 186.83,608.50 187.50,607.47 C188.16,606.45 188.83,605.45 189.50,604.44 C190.16,603.45 190.83,602.46 191.50,601.47 C192.17,600.49 192.83,599.51 193.50,598.53 C194.17,597.56 194.83,596.58 195.50,595.62 C196.17,594.65 196.83,593.69 197.50,592.74 C198.16,591.80 198.83,590.87 199.50,589.95 C200.16,589.04 200.83,588.15 201.50,587.27 C202.16,586.40 202.83,585.55 203.50,584.70 C204.16,583.85 204.83,583.02 205.50,582.18 C206.17,581.35 206.83,580.53 207.50,579.70 C208.17,578.87 208.83,578.04 209.50,577.21 C210.17,576.39 210.83,575.56 211.50,574.73 C212.17,573.91 212.83,573.08 213.50,572.25 C214.17,571.42 214.83,570.60 215.50,569.77 C216.17,568.94 216.83,568.12 217.50,567.29 C218.17,566.46 218.83,565.64 219.50,564.81 C220.17,563.98 220.83,563.15 221.50,562.32 C222.17,561.49 222.84,560.65 223.50,559.81 C224.17,558.97 224.84,558.12 225.50,557.26 C226.17,556.40 226.84,555.53 227.50,554.65 C228.17,553.76 228.84,552.86 229.50,551.96 C230.17,551.05 230.83,550.14 231.50,549.23 C232.17,548.31 232.83,547.39 233.50,546.47 C234.17,545.56 234.83,544.63 235.50,543.71 C236.17,542.79 236.83,541.87 237.50,540.95 C238.17,540.03 238.83,539.11 239.50,538.19 C240.17,537.27 240.83,536.35 241.50,535.43 C242.17,534.51 242.83,533.59 243.50,532.67 C244.17,531.74 244.84,530.82 245.50,529.88 C246.17,528.94 246.84,527.99 247.50,527.03 C248.17,526.04 248.84,525.05 249.50,524.03 C250.17,523.00 250.84,521.93 251.50,520.85 C252.17,519.76 252.84,518.63 253.50,517.50 C254.17,516.36 254.83,515.21 255.50,514.05 C256.17,512.89 256.83,511.72 257.50,510.56 C258.17,509.39 258.83,508.22 259.50,507.06 C260.17,505.89 260.83,504.72 261.50,503.55 C262.17,502.38 262.83,501.21 263.50,500.05 C264.17,498.88 264.83,497.71 265.50,496.54 C266.17,495.37 266.83,494.21 267.50,493.03 C268.17,491.86 268.83,490.69 269.50,489.51 C270.17,488.33 270.84,487.15 271.50,485.95 C272.17,484.74 272.84,483.53 273.50,482.31 C274.17,481.07 274.84,479.82 275.50,478.56 C276.17,477.28 276.84,476.00 277.50,474.71 C278.17,473.42 278.83,472.11 279.50,470.81 C280.17,469.50 280.83,468.18 281.50,466.86 C282.17,465.54 282.84,464.20 283.50,462.87 C284.17,461.52 284.84,460.17 285.50,458.81 C286.17,457.45 286.83,456.07 287.50,454.70 C288.17,453.32 288.83,451.94 289.50,450.56 C290.17,449.18 290.83,447.79 291.50,446.41 C292.17,445.03 292.83,443.64 293.50,442.26 C294.17,440.87 294.83,439.49 295.50,438.10 C296.17,436.72 296.83,435.33 297.50,433.95 C298.17,432.56 298.83,431.18 299.50,429.79 C300.17,428.40 300.83,427.02 301.50,425.63 C302.17,424.25 302.83,422.86 303.50,421.48 C304.17,420.09 304.83,418.71 305.50,417.32 C306.17,415.94 306.83,414.55 307.50,413.17 C308.17,411.78 308.83,410.40 309.50,409.01 C310.17,407.63 310.83,406.24 311.50,404.86 C312.17,403.48 312.83,402.09 313.50,400.71 C314.17,399.33 314.83,397.95 315.50,396.57 C316.16,395.21 316.83,393.84 317.50,392.49 C318.16,391.16 318.83,389.83 319.50,388.53 C320.16,387.24 320.83,385.97 321.50,384.71 C322.16,383.47 322.83,382.25 323.50,381.03 C324.16,379.82 324.83,378.63 325.50,377.43 C326.17,376.24 326.83,375.06 327.50,373.87 C328.17,372.67 328.84,371.49 329.50,370.29 C330.17,369.07 330.84,367.87 331.50,366.62 C332.17,365.35 332.85,364.07 333.50,362.73 C334.18,361.34 334.85,359.91 335.50,358.44 C336.18,356.89 336.84,355.29 337.50,353.66 C338.18,351.98 338.84,350.25 339.50,348.52 C340.17,346.76 340.84,344.96 341.50,343.18 C342.17,341.38 342.83,339.58 343.50,337.77 C344.17,335.97 344.83,334.16 345.50,332.35 C346.17,330.55 346.83,328.74 347.50,326.93 C348.17,325.13 348.83,323.32 349.50,321.51 C350.17,319.70 350.83,317.90 351.50,316.09 C352.17,314.28 352.83,312.48 353.50,310.67 C354.17,308.86 354.83,307.06 355.50,305.25 C356.17,303.44 356.83,301.64 357.50,299.83 C358.17,298.02 358.83,296.21 359.50,294.40 C360.17,292.60 360.83,290.79 361.50,288.97 C362.17,287.16 362.83,285.34 363.50,283.52 C364.17,281.70 364.83,279.87 365.50,278.04 C366.17,276.20 366.83,274.36 367.50,272.52 C368.17,270.67 368.83,268.82 369.50,266.97 C370.17,265.12 370.83,263.26 371.50,261.41 C372.17,259.55 372.83,257.69 373.50,255.83 C374.17,253.97 374.83,252.11 375.50,250.25 C376.17,248.39 376.83,246.52 377.50,244.66 C378.17,242.79 378.83,240.92 379.50,239.05 C380.17,237.18 380.83,235.31 381.50,233.44 C382.17,231.56 382.83,229.69 383.50,227.81 C384.17,225.93 384.84,224.05 385.50,222.15 C386.17,220.22 386.84,218.30 387.50,216.33 C388.17,214.32 388.84,212.29 389.50,210.21 C390.18,208.07 390.84,205.88 391.50,203.66 C392.18,201.39 392.84,199.06 393.50,196.72 C394.17,194.35 394.84,191.95 395.50,189.55 C396.17,187.14 396.83,184.71 397.50,182.29 C398.17,179.87 398.83,177.45 399.50,175.03 C400.17,172.63 400.83,170.23 401.50,167.84 C402.16,165.46 402.83,163.09 403.50,160.72 C404.17,158.37 404.83,156.02 405.50,153.68 C406.17,151.34 406.83,149.01 407.50,146.70 C408.16,144.40 408.83,142.10 409.50,139.84 C410.16,137.61 410.83,135.40 411.50,133.22 C412.16,131.08 413.24,128.28 413.50,126.86 C413.63,126.18 413.57,125.82 413.60,125.30" fill="none" stroke="#135875" stroke-width="2.9" stroke-linecap="round" stroke-linejoin="round"/>
<path d="M132.00,684.00 C132.67,683.91 133.33,683.81 134.00,683.72 C134.67,683.62 135.33,683.53 136.00,683.43 C136.67,683.34 137.33,683.24 138.00,683.15 C138.67,683.06 139.33,682.96 140.00,682.87 C140.67,682.77 141.33,682.68 142.00,682.58 C142.67,682.49 143.33,682.39 144.00,682.30 C144.67,682.21 145.33,682.11 146.00,682.02 C146.67,681.92 147.33,681.83 148.00,681.73 C148.67,681.64 149.33,681.54 150.00,681.45 C150.67,681.35 151.33,681.26 152.00,681.16 C152.67,681.07 153.33,680.97 154.00,680.87 C154.67,680.77 155.33,680.67 156.00,680.56 C156.67,680.45 157.33,680.34 158.00,680.23 C158.67,680.12 159.33,680.00 160.00,679.88 C160.67,679.76 161.33,679.64 162.00,679.51 C162.67,679.39 163.33,679.27 164.00,679.14 C164.67,679.02 165.33,678.90 166.00,678.77 C166.67,678.65 167.33,678.52 168.00,678.40 C168.67,678.28 169.33,678.15 170.00,678.03 C170.67,677.90 171.33,677.78 172.00,677.66 C172.67,677.53 173.33,677.41 174.00,677.28 C174.67,677.16 175.33,677.04 176.00,676.91 C176.67,676.79 177.33,676.67 178.00,676.55 C178.67,676.43 179.33,676.31 180.00,676.21 C180.67,676.10 181.33,676.00 182.00,675.93 C182.67,675.85 183.33,675.79 184.00,675.75 C184.67,675.71 185.33,675.69 186.00,675.68 C186.67,675.68 187.33,675.69 188.00,675.71 C188.67,675.72 189.33,675.75 190.00,675.75 C190.67,675.76 191.33,675.78 192.00,675.75 C192.67,675.72 193.34,675.69 194.00,675.59 C194.67,675.50 195.34,675.36 196.00,675.18 C196.67,674.99 197.34,674.74 198.00,674.46 C198.68,674.18 199.34,673.84 200.00,673.47 C200.68,673.09 201.34,672.66 202.00,672.19 C202.68,671.72 203.34,671.19 204.00,670.64 C204.68,670.06 205.34,669.45 206.00,668.81 C206.68,668.16 207.34,667.47 208.00,666.76 C208.68,666.01 209.35,665.24 210.00,664.43 C210.68,663.59 211.34,662.70 212.00,661.79 C212.68,660.85 213.34,659.87 214.00,658.88 C214.67,657.87 215.34,656.84 216.00,655.81 C216.67,654.77 217.33,653.72 218.00,652.68 C218.67,651.64 219.33,650.59 220.00,649.55 C220.67,648.50 221.33,647.46 222.00,646.43 C222.67,645.40 223.33,644.37 224.00,643.34 C224.67,642.31 225.33,641.29 226.00,640.27 C226.67,639.25 227.33,638.23 228.00,637.22 C228.67,636.20 229.33,635.19 230.00,634.17 C230.67,633.15 231.33,632.14 232.00,631.12 C232.67,630.11 233.33,629.09 234.00,628.07 C234.67,627.06 235.33,626.04 236.00,625.02 C236.67,624.00 237.33,622.98 238.00,621.95 C238.67,620.93 239.33,619.90 240.00,618.87 C240.67,617.83 241.33,616.79 242.00,615.76 C242.67,614.72 243.33,613.67 244.00,612.63 C244.67,611.59 245.33,610.54 246.00,609.50 C246.67,608.46 247.33,607.41 248.00,606.37 C248.67,605.33 249.33,604.29 250.00,603.27 C250.66,602.25 251.33,601.23 252.00,600.24 C252.66,599.28 253.32,598.32 254.00,597.41 C254.66,596.52 255.32,595.67 256.00,594.85 C256.66,594.07 257.33,593.32 258.00,592.58 C258.66,591.87 259.33,591.19 260.00,590.50 C260.66,589.83 261.33,589.17 262.00,588.50 C262.67,587.83 263.34,587.17 264.00,586.49 C264.67,585.80 265.34,585.11 266.00,584.39 C266.68,583.65 267.35,582.89 268.00,582.08 C268.68,581.24 269.35,580.36 270.00,579.43 C270.68,578.45 271.35,577.42 272.00,576.35 C272.68,575.23 273.35,574.04 274.00,572.82 C274.68,571.55 275.34,570.22 276.00,568.89 C276.68,567.51 277.34,566.09 278.00,564.68 C278.67,563.26 279.33,561.81 280.00,560.37 C280.67,558.92 281.33,557.48 282.00,556.03 C282.67,554.57 283.34,553.12 284.00,551.65 C284.67,550.15 285.34,548.66 286.00,547.12 C286.68,545.55 287.34,543.95 288.00,542.32 C288.68,540.64 289.34,538.91 290.00,537.18 C290.67,535.41 291.33,533.61 292.00,531.82 C292.67,530.02 293.33,528.22 294.00,526.42 C294.67,524.63 295.34,522.85 296.00,521.05 C296.67,519.25 297.34,517.45 298.00,515.61 C298.67,513.74 299.34,511.84 300.00,509.90 C300.68,507.90 301.34,505.85 302.00,503.78 C302.68,501.65 303.34,499.47 304.00,497.29 C304.67,495.08 305.33,492.83 306.00,490.60 C306.67,488.35 307.33,486.08 308.00,483.83 C308.67,481.58 309.33,479.32 310.00,477.08 C310.66,474.86 311.33,472.64 312.00,470.46 C312.66,468.31 313.33,466.17 314.00,464.08 C314.66,462.03 315.33,460.01 316.00,458.02 C316.66,456.06 317.33,454.15 318.00,452.23 C318.66,450.34 319.56,447.85 320.00,446.60 C320.22,445.98 320.33,445.67 320.50,445.20" fill="none" stroke="#cf4b0c" stroke-width="2.9" stroke-linecap="round" stroke-linejoin="round"/>
<path d="M146.00,686.80 C146.67,686.70 147.33,686.61 148.00,686.51 C148.67,686.42 149.33,686.32 150.00,686.23 C150.67,686.13 151.33,686.04 152.00,685.94 C152.67,685.85 153.33,685.75 154.00,685.65 C154.67,685.56 155.33,685.46 156.00,685.35 C156.67,685.25 157.33,685.14 158.00,685.02 C158.67,684.89 159.33,684.76 160.00,684.61 C160.67,684.47 161.33,684.30 162.00,684.13 C162.67,683.96 163.33,683.77 164.00,683.58 C164.67,683.39 165.33,683.19 166.00,683.00 C166.67,682.80 167.33,682.60 168.00,682.40 C168.67,682.20 169.33,682.00 170.00,681.80 C170.67,681.60 171.33,681.40 172.00,681.20 C172.67,681.00 173.33,680.80 174.00,680.60 C174.67,680.40 175.33,680.20 176.00,680.00 C176.67,679.80 177.33,679.60 178.00,679.40 C178.67,679.20 179.33,679.00 180.00,678.80 C180.67,678.59 181.33,678.39 182.00,678.18 C182.67,677.97 183.34,677.76 184.00,677.53 C184.67,677.30 185.34,677.06 186.00,676.81 C186.67,676.56 187.34,676.29 188.00,676.02 C188.67,675.74 189.33,675.44 190.00,675.15 C190.67,674.86 191.33,674.55 192.00,674.25 C192.67,673.95 193.33,673.65 194.00,673.34 C194.67,673.04 195.33,672.73 196.00,672.43 C196.67,672.12 197.33,671.82 198.00,671.51 C198.67,671.20 199.33,670.90 200.00,670.59 C200.67,670.28 201.33,669.98 202.00,669.66 C202.67,669.35 203.33,669.04 204.00,668.73 C204.67,668.42 205.33,668.10 206.00,667.79 C206.67,667.47 207.33,667.15 208.00,666.84 C208.67,666.52 209.33,666.20 210.00,665.89 C210.67,665.57 211.33,665.25 212.00,664.94 C212.67,664.62 213.33,664.30 214.00,663.99 C214.67,663.67 215.33,663.35 216.00,663.04 C216.67,662.72 217.33,662.40 218.00,662.08 C218.67,661.77 219.33,661.45 220.00,661.13 C220.67,660.82 221.33,660.50 222.00,660.18 C222.67,659.87 223.33,659.55 224.00,659.23 C224.67,658.91 225.33,658.60 226.00,658.28 C226.67,657.96 227.33,657.64 228.00,657.31 C228.67,656.99 229.33,656.66 230.00,656.33 C230.67,656.00 231.33,655.66 232.00,655.32 C232.67,654.98 233.33,654.63 234.00,654.28 C234.67,653.93 235.33,653.57 236.00,653.22 C236.67,652.86 237.33,652.51 238.00,652.15 C238.67,651.80 239.33,651.44 240.00,651.08 C240.67,650.73 241.33,650.37 242.00,650.01 C242.67,649.66 243.33,649.30 244.00,648.94 C244.67,648.58 245.33,648.22 246.00,647.87 C246.67,647.51 247.33,647.15 248.00,646.79 C248.67,646.43 249.33,646.07 250.00,645.71 C250.67,645.35 251.33,644.99 252.00,644.63 C252.67,644.27 253.33,643.91 254.00,643.55 C254.67,643.18 255.33,642.82 256.00,642.45 C256.67,642.08 257.33,641.70 258.00,641.32 C258.67,640.94 259.33,640.56 260.00,640.17 C260.67,639.78 261.33,639.38 262.00,638.98 C262.67,638.58 263.33,638.18 264.00,637.78 C264.67,637.38 265.33,636.98 266.00,636.58 C266.67,636.18 267.33,635.78 268.00,635.39 C268.67,634.99 269.33,634.60 270.00,634.21 C270.67,633.83 271.38,633.47 272.00,633.09 C272.57,632.73 273.07,632.36 273.60,632.00" fill="none" stroke="#3f72b8" stroke-width="2.9" stroke-linecap="round" stroke-linejoin="round"/>
<path d="M62.80,684.80 C63.47,684.77 64.13,684.74 64.80,684.70 C65.47,684.67 66.13,684.64 66.80,684.61 C67.47,684.58 68.13,684.55 68.80,684.51 C69.47,684.48 70.13,684.45 70.80,684.42 C71.47,684.39 72.13,684.35 72.80,684.32 C73.47,684.29 74.13,684.26 74.80,684.23 C75.47,684.20 76.13,684.16 76.80,684.13 C77.47,684.10 78.13,684.07 78.80,684.04 C79.47,684.01 80.13,683.97 80.80,683.94 C81.47,683.91 82.13,683.88 82.80,683.85 C83.47,683.81 84.13,683.78 84.80,683.75 C85.47,683.72 86.13,683.69 86.80,683.66 C87.47,683.62 88.13,683.59 88.80,683.56 C89.47,683.53 90.13,683.50 90.80,683.46 C91.47,683.43 92.13,683.40 92.80,683.37 C93.47,683.34 94.13,683.31 94.80,683.27 C95.47,683.24 96.13,683.21 96.80,683.18 C97.47,683.15 98.13,683.12 98.80,683.08 C99.47,683.05 100.13,683.02 100.80,682.99 C101.47,682.96 102.13,682.92 102.80,682.89 C103.47,682.86 104.13,682.83 104.80,682.80 C105.47,682.77 106.13,682.73 106.80,682.70 C107.47,682.67 108.13,682.64 108.80,682.61 C109.47,682.57 110.13,682.54 110.80,682.51 C111.47,682.48 112.13,682.45 112.80,682.42 C113.47,682.38 114.13,682.35 114.80,682.32 C115.47,682.29 116.13,682.26 116.80,682.22 C117.47,682.19 118.13,682.16 118.80,682.13 C119.47,682.10 120.13,682.07 120.80,682.03 C121.47,682.00 122.13,681.97 122.80,681.94 C123.47,681.91 124.13,681.88 124.80,681.84 C125.47,681.81 126.13,681.78 126.80,681.74 C127.47,681.71 128.13,681.67 128.80,681.63 C129.47,681.59 130.13,681.55 130.80,681.50 C131.47,681.44 132.13,681.39 132.80,681.32 C133.47,681.25 134.13,681.18 134.80,681.10 C135.47,681.02 136.13,680.93 136.80,680.84 C137.47,680.76 138.13,680.67 138.80,680.58 C139.47,680.49 140.13,680.40 140.80,680.31 C141.47,680.22 142.13,680.13 142.80,680.04 C143.47,679.95 144.13,679.86 144.80,679.77 C145.47,679.68 146.13,679.59 146.80,679.50 C147.47,679.41 148.13,679.32 148.80,679.23 C149.47,679.13 150.13,679.04 150.80,678.95 C151.47,678.86 152.13,678.77 152.80,678.68 C153.47,678.59 154.13,678.50 154.80,678.41 C155.47,678.32 156.13,678.23 156.80,678.14 C157.47,678.05 158.13,677.96 158.80,677.87 C159.47,677.78 160.13,677.69 160.80,677.60 C161.47,677.51 162.13,677.42 162.80,677.33 C163.47,677.24 164.13,677.15 164.80,677.06 C165.47,676.97 166.13,676.88 166.80,676.79 C167.47,676.70 168.13,676.61 168.80,676.52 C169.47,676.43 170.13,676.34 170.80,676.25 C171.47,676.16 172.13,676.07 172.80,675.97 C173.47,675.88 174.13,675.79 174.80,675.70 C175.47,675.60 176.13,675.51 176.80,675.40 C177.47,675.30 178.13,675.19 178.80,675.06 C179.47,674.93 180.13,674.80 180.80,674.65 C181.47,674.50 182.13,674.33 182.80,674.16 C183.47,673.99 184.13,673.81 184.80,673.63 C185.47,673.44 186.13,673.26 186.80,673.07 C187.47,672.88 188.13,672.69 188.80,672.50 C189.47,672.31 190.13,672.12 190.80,671.93 C191.47,671.75 192.13,671.56 192.80,671.37 C193.47,671.18 194.13,670.99 194.80,670.80 C195.47,670.61 196.13,670.42 196.80,670.23 C197.47,670.04 198.13,669.85 198.80,669.65 C199.47,669.45 200.13,669.25 200.80,669.03 C201.47,668.82 202.14,668.60 202.80,668.36 C203.47,668.12 204.14,667.87 204.80,667.61 C205.47,667.35 206.13,667.08 206.80,666.80 C207.47,666.53 208.13,666.24 208.80,665.96 C209.47,665.67 210.13,665.39 210.80,665.10 C211.47,664.82 212.13,664.53 212.80,664.24 C213.47,663.96 214.13,663.67 214.80,663.38 C215.47,663.09 216.13,662.81 216.80,662.52 C217.47,662.23 218.13,661.95 218.80,661.66 C219.47,661.37 220.13,661.09 220.80,660.80 C221.47,660.51 222.13,660.23 222.80,659.94 C223.47,659.65 224.13,659.37 224.80,659.08 C225.47,658.79 226.13,658.50 226.80,658.20 C227.47,657.91 228.14,657.61 228.80,657.30 C229.47,656.99 230.14,656.68 230.80,656.35 C231.47,656.02 232.14,655.68 232.80,655.33 C233.47,654.98 234.13,654.62 234.80,654.26 C235.47,653.89 236.13,653.52 236.80,653.15 C237.47,652.79 238.13,652.41 238.80,652.05 C239.47,651.68 240.13,651.31 240.80,650.95 C241.47,650.59 242.13,650.23 242.80,649.88 C243.47,649.53 244.13,649.19 244.80,648.85 C245.47,648.52 246.13,648.19 246.80,647.87 C247.47,647.54 248.13,647.23 248.80,646.91 C249.47,646.60 250.13,646.28 250.80,645.97 C251.47,645.66 252.13,645.35 252.80,645.03 C253.47,644.72 254.13,644.41 254.80,644.09 C255.47,643.78 256.13,643.46 256.80,643.14 C257.47,642.82 258.13,642.50 258.80,642.17 C259.47,641.85 260.13,641.52 260.80,641.19 C261.47,640.86 262.13,640.53 262.80,640.20 C263.47,639.87 264.13,639.53 264.80,639.20 C265.47,638.87 266.13,638.53 266.80,638.20 C267.47,637.86 268.13,637.53 268.80,637.19 C269.47,636.84 270.14,636.50 270.80,636.14 C271.47,635.77 272.14,635.40 272.80,634.99 C273.47,634.57 274.14,634.13 274.80,633.67 C275.47,633.19 276.14,632.68 276.80,632.15 C277.47,631.62 278.14,631.06 278.80,630.49 C279.47,629.93 280.13,629.34 280.80,628.76 C281.47,628.19 282.13,627.60 282.80,627.02 C283.47,626.44 284.13,625.86 284.80,625.29 C285.46,624.73 286.13,624.17 286.80,623.61 C287.46,623.06 288.13,622.52 288.80,621.99 C289.46,621.46 290.13,620.94 290.80,620.42 C291.46,619.90 292.13,619.40 292.80,618.90 C293.46,618.40 294.17,617.92 294.80,617.43 C295.40,616.96 295.93,616.48 296.50,616.00" fill="none" stroke="#ac3636" stroke-width="2.9" stroke-linecap="round" stroke-linejoin="round"/>
<line x1="517" y1="215.8" x2="544.5" y2="215.8" stroke="#1a2a70" stroke-width="2.2"/>
<text x="546.5" y="220.1" font-size="11" textLength="62.4" lengthAdjust="spacingAndGlyphs">Edi's 00 18V</text>
<line x1="517" y1="255.9" x2="544.5" y2="255.9" stroke="#8a1a1a" stroke-width="2.2"/>
<text x="546.5" y="260.2" font-size="11" textLength="62.5" lengthAdjust="spacingAndGlyphs">Edi's 00 20V</text>
<line x1="517" y1="296.0" x2="544.5" y2="296.0" stroke="#4f7a22" stroke-width="2.2"/>
<text x="546.5" y="300.3" font-size="11" textLength="122.5" lengthAdjust="spacingAndGlyphs">Edi`s RCA UX-201A 18V</text>
<line x1="517" y1="336.1" x2="544.5" y2="336.1" stroke="#2e1a60" stroke-width="2.2"/>
<text x="546.5" y="340.4" font-size="11" textLength="122.5" lengthAdjust="spacingAndGlyphs">Edi`s RCA UX-201A 20V</text>
<line x1="517" y1="376.2" x2="544.5" y2="376.2" stroke="#1e5f80" stroke-width="2.2"/>
<text x="546.5" y="380.5" font-size="11" textLength="82.0" lengthAdjust="spacingAndGlyphs">RCA 00-A 22,5V</text>
<line x1="517" y1="416.3" x2="544.5" y2="416.3" stroke="#d0501a" stroke-width="2.2"/>
<text x="546.5" y="420.6" font-size="11" textLength="82.0" lengthAdjust="spacingAndGlyphs">RCA 01-A 22,5V</text>
<line x1="517" y1="456.4" x2="544.5" y2="456.4" stroke="#4a70b0" stroke-width="2.2"/>
<text x="546.5" y="460.7" font-size="11" textLength="77.3" lengthAdjust="spacingAndGlyphs">Cun. C300 20V</text>
<line x1="517" y1="496.5" x2="544.5" y2="496.5" stroke="#a04040" stroke-width="2.2"/>
<text x="546.5" y="500.8" font-size="11" textLength="77.3" lengthAdjust="spacingAndGlyphs">Cun. C301 20V</text>
<circle cx="16.0" cy="13.5" r="4.5" fill="#daf2fa" stroke="#34464c" stroke-width="1.6"/>
<circle cx="484.0" cy="13.5" r="4.5" fill="#daf2fa" stroke="#34464c" stroke-width="1.6"/>
<circle cx="16.0" cy="687.0" r="4.5" fill="#daf2fa" stroke="#34464c" stroke-width="1.6"/>
<circle cx="484.0" cy="687.0" r="4.5" fill="#daf2fa" stroke="#34464c" stroke-width="1.6"/>
<rect x="246.5" y="10.0" width="7" height="7" rx="1" fill="#cdeffa" stroke="#24506a" stroke-width="1.5"/>
<rect x="12.5" y="346.8" width="7" height="7" rx="1" fill="#cdeffa" stroke="#24506a" stroke-width="1.5"/>
<rect x="480.5" y="346.8" width="7" height="7" rx="1" fill="#cdeffa" stroke="#24506a" stroke-width="1.5"/>
<rect x="246.5" y="683.5" width="7" height="7" rx="1" fill="#cdeffa" stroke="#24506a" stroke-width="1.5"/>
<path d="M548,347.5 h3 M554,347.5 h3 M561,347.5 h3 M567,347.5 h2" stroke="#bbb" stroke-width="0.9"/>
</svg></body></html>
